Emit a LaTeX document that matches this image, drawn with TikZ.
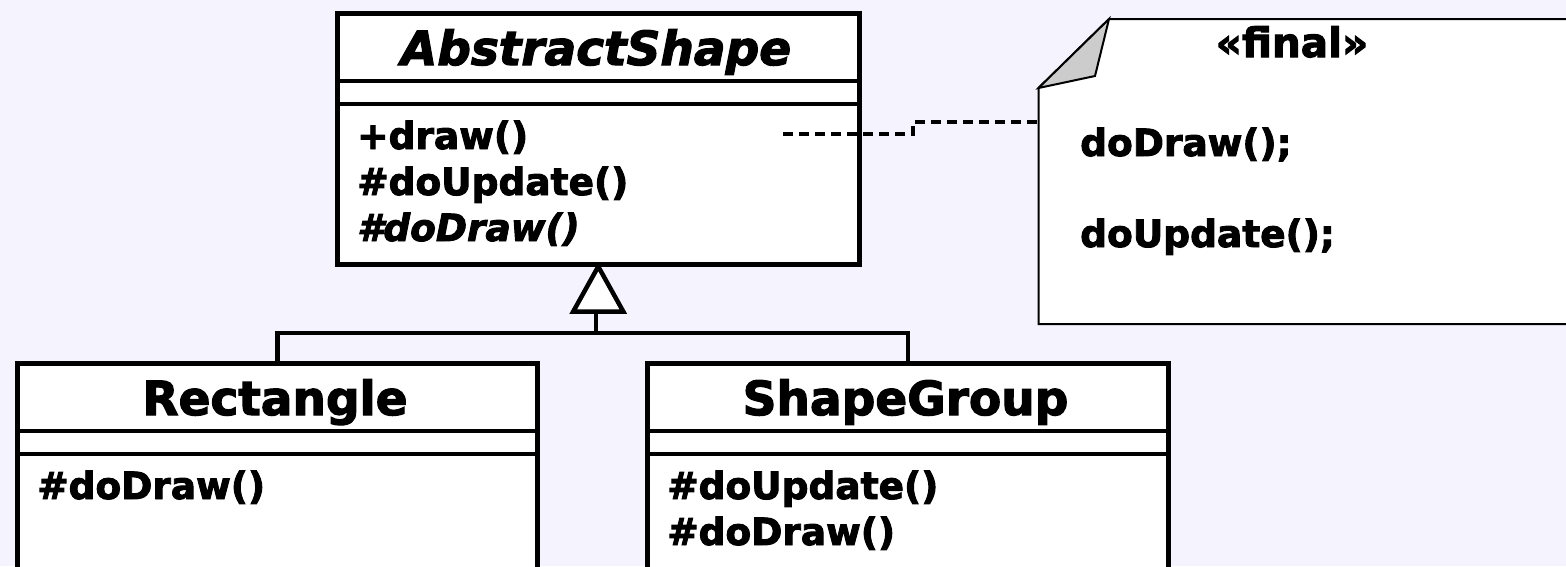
\documentclass[tikz,border=0pt]{standalone}
\usepackage{fontspec}
\setmainfont{DejaVu Sans}[
  BoldFeatures={FakeBold=2.5},
  BoldItalicFeatures={FakeBold=2.5}]
\definecolor{canvas}{RGB}{245,243,254}
\definecolor{foldgray}{RGB}{204,204,204}

\begin{document}
\begin{tikzpicture}[x=1pt,y=-1pt,
  classbox/.style={draw=black, line width=4.5pt, fill=white, rectangle,
    inner sep=0pt, anchor=north west},
  divider/.style={line width=4.5pt},
  classtitle/.style={font=\bfseries\fontsize{47}{56}\selectfont, anchor=base, inner sep=0pt},
  member/.style={font=\bfseries\fontsize{37.5}{46}\selectfont, anchor=base west, inner sep=0pt},
  inherit/.style={line width=4.5pt, line join=miter},
  notelink/.style={line width=4.5pt, dash pattern=on 10pt off 6pt},
  noteline/.style={line width=2pt, line join=miter},
]
% canvas
\fill[canvas] (0,0) rectangle (1566,566);
\useasboundingbox (0,0) rectangle (1566,566);

% ---- AbstractShape ----
\node[classbox, minimum width=522pt, minimum height=251pt] (abs) at (335,11) {};
\draw[divider] (335,81) -- (857,81);
\draw[divider] (335,104) -- (857,104);
\node[classtitle, font=\bfseries\itshape\fontsize{47}{56}\selectfont] (absname) at (596,65) {AbstractShape};
\node[member] (absop1) at (357,149) {+draw()};
\node[member] (absop2) at (357,195) {\#doUpdate()};
\node[member, font=\bfseries\itshape\fontsize{37.5}{46}\selectfont] (absop3) at (357,241) {\#doDraw()};

% ---- Rectangle ----
\node[classbox, minimum width=520pt, minimum height=206.5pt] (rect) at (15,361) {};
\draw[divider] (15,431) -- (535,431);
\draw[divider] (15,454) -- (535,454);
\node[classtitle] (rectname) at (275,415) {Rectangle};
\node[member] (rectop1) at (37,499) {\#doDraw()};

% ---- ShapeGroup ----
\node[classbox, minimum width=521pt, minimum height=206.5pt] (sg) at (645,361) {};
\draw[divider] (645,431) -- (1166,431);
\draw[divider] (645,454) -- (1166,454);
\node[classtitle] (sgname) at (905.5,415) {ShapeGroup};
\node[member] (sgop1) at (667,499) {\#doUpdate()};
\node[member] (sgop2) at (667,545) {\#doDraw()};

% ---- generalization ----
\coordinate (joint) at (596,333);
\draw[inherit] (rect.north) |- (joint) -| (sg.north);
\draw[inherit] (joint) -- ++(0,-26);
\draw[inherit, fill=white] (abs.south) -- ++(-25,45) -- ++(50,0) -- cycle;

% ---- note ----
\node[minimum width=540pt, minimum height=305pt, inner sep=0pt, anchor=north west] (note) at (1038.5,19) {};
\draw[noteline, fill=white] (1038.5,88) -- (1109,19) -- (1590,19) -- (1590,324) -- (1038.5,324) -- cycle;
\draw[noteline, fill=foldgray] (1038.5,88) -- (1109,19) -- (1095,76) -- cycle;
\node[member, anchor=base, font=\bfseries\fontsize{40.5}{48}\selectfont] (stereo) at (1292,57) {«final»};
\node[member] (notel1) at (1080,156) {doDraw();};
\node[member] (notel2) at (1080,247) {doUpdate();};

% ---- note attachment ----
\coordinate (opport) at (783,134);
\coordinate (noteport) at (1038.5,122);
\draw[notelink] (opport) -- ++(130,0) |- (noteport);
\end{tikzpicture}
\end{document}
